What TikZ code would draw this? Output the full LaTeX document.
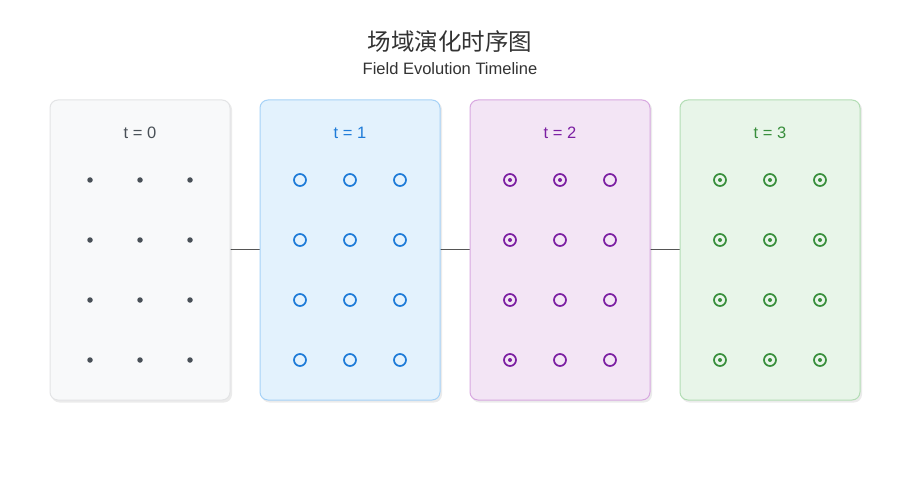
\documentclass[tikz,border=0pt]{standalone}
\usepackage{fontspec}
\setmainfont{Liberation Sans}
\newfontfamily\cjk{Noto Sans CJK SC}
\begin{document}
\begin{tikzpicture}[x=1pt,y=-1pt,
  panel/.style={rounded corners=8pt, line width=1pt},
  shadowbox/.style={rounded corners=8pt, fill=black, opacity=0.08},
  link/.style={draw=linkgray, line width=1.6pt},
  lbl/.style={font=\fontsize{16.5}{19}\selectfont, anchor=center, inner sep=0pt},
  dotsym/.style={circle, fill=c0sym, minimum size=5.5pt, inner sep=0pt},
  ring/.style={circle, draw=#1, line width=1.7pt, minimum size=12pt, inner sep=0pt},
  core/.style={circle, fill=#1, minimum size=4pt, inner sep=0pt}
]
\definecolor{linkgray}{HTML}{555555}
\definecolor{c0fill}{HTML}{F8F9FA}\definecolor{c0line}{HTML}{E3E4E6}\definecolor{c0sym}{HTML}{495057}
\definecolor{c1fill}{HTML}{E3F2FD}\definecolor{c1line}{HTML}{A6D2F7}\definecolor{c1sym}{HTML}{1E7BD8}
\definecolor{c2fill}{HTML}{F3E5F5}\definecolor{c2line}{HTML}{D8A8E0}\definecolor{c2sym}{HTML}{7B1FA2}
\definecolor{c3fill}{HTML}{E8F5E9}\definecolor{c3line}{HTML}{B3DDB5}\definecolor{c3sym}{HTML}{388E3C}
\useasboundingbox[fill=white] (0,0) rectangle (900,500);
% title
\node[font=\cjk\fontsize{23.5}{28}\selectfont, text=black!80] (title) at (450,42) {场域演化时序图};
\node[font=\fontsize{16.5}{19}\selectfont, text=black!80] (subtitle) at (450,69) {Field Evolution Timeline};
% connectors
\coordinate (l0a) at (230,249.5); \coordinate (l0b) at (260,249.5);
\coordinate (l1a) at (440,249.5); \coordinate (l1b) at (470,249.5);
\coordinate (l2a) at (650,249.5); \coordinate (l2b) at (680,249.5);
\draw[link] (l0a) -- (l0b);
\draw[link] (l1a) -- (l1b);
\draw[link] (l2a) -- (l2b);
% panels
\foreach \i/\x in {0/50,1/260,2/470,3/680}{
  \fill[shadowbox] (\x+1.5,101.5) rectangle (\x+182,402.5);
  \draw[panel, fill=c\i fill, draw=c\i line] (\x,100) rectangle (\x+180,400);
  \node[lbl, text=c\i sym] (lab\i) at (\x+90,133) {t = \i};
}
% symbols
\foreach \r/\y in {0/180,1/240,2/300,3/360}{
  \foreach \c/\dx in {0/40,1/90,2/140}{
    \node[dotsym] (p0r\r c\c) at (50+\dx,\y) {};
    \node[ring=c1sym] (p1r\r c\c) at (260+\dx,\y) {};
    \node[ring=c2sym] (p2r\r c\c) at (470+\dx,\y) {};
    \node[ring=c3sym] (p3r\r c\c) at (680+\dx,\y) {};
    \node[core=c3sym] (q3r\r c\c) at (680+\dx,\y) {};
  }
  \node[core=c2sym] (q2r\r c0) at (510,\y) {};
}
\node[core=c2sym] (q2r0c1) at (560,180) {};
\end{tikzpicture}
\end{document}
